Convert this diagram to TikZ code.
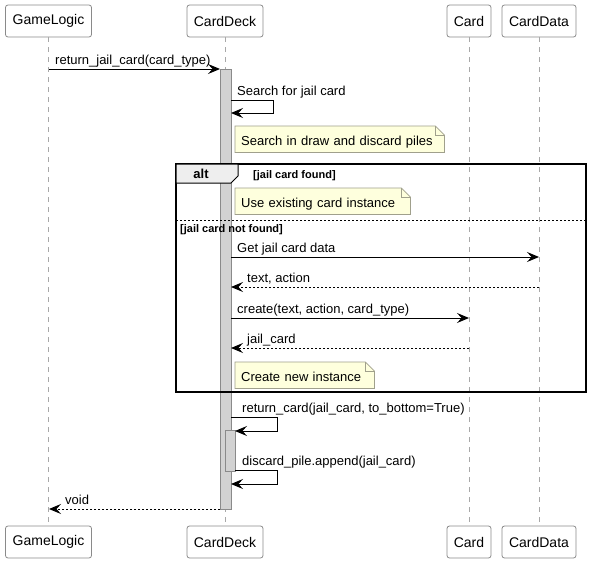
\documentclass[tikz,border=0pt]{standalone}
\usepackage{fontspec}
\setmainfont{Liberation Sans}
\usetikzlibrary{arrows.meta,backgrounds}
\definecolor{partborder}{HTML}{8A8A8A}
\definecolor{lifegray}{HTML}{A8A8A8}
\definecolor{actfill}{HTML}{D2D2D2}
\definecolor{actborder}{HTML}{8A8A8A}
\definecolor{notefill}{HTML}{FEFFDD}
\definecolor{noteborder}{HTML}{A0A08C}
\definecolor{tabfill}{HTML}{EEEEEE}
\newcommand\mynote[4]{%
  \node[notetext,text width=#3-12pt] (#1) at #2 {#4};
  \begin{scope}[on background layer]
  \draw[noteshape] (#1.north west) -- ([xshift=-9pt]#1.north east) -- ([yshift=-9pt]#1.north east) -- (#1.south east) -- (#1.south west) -- cycle;
  \draw[noteborder,line width=0.8pt] ([xshift=-9pt]#1.north east) -- ([xshift=-9pt,yshift=-9pt]#1.north east) -- ([yshift=-9pt]#1.north east);
  \end{scope}}
\begin{document}
\begin{tikzpicture}[x=1pt,y=-1pt,
  txt/.style={font=\fontsize{13}{15}\selectfont},
  part/.style={draw=partborder,fill=white,rounded corners=2.5pt,minimum height=32pt,inner sep=0pt,line width=0.8pt,font=\fontsize{14}{16}\selectfont},
  life/.style={draw=lifegray,dash pattern=on 5pt off 5pt,line width=0.8pt},
  msg/.style={-{Stealth[length=12pt,width=10pt,inset=4.5pt]},line width=1pt},
  ret/.style={msg,dash pattern=on 2pt off 2pt},
  lbl/.style={txt,anchor=base west,inner sep=0pt},
  act/.style={draw=actborder,fill=actfill,line width=0.8pt},
  notetext/.style={txt,anchor=north west,inner xsep=6pt,inner ysep=0pt,minimum height=26pt,text height=13pt,text depth=0pt,align=left},
  noteshape/.style={draw=noteborder,fill=notefill,line width=0.8pt},
  guard/.style={font=\bfseries\fontsize{11}{13}\selectfont,anchor=base west,inner sep=0pt}]
\useasboundingbox (0,0) rectangle (592,562);
% participants
\node[part,minimum width=86pt] (glT) at (48.5,21) {GameLogic};
\node[part,minimum width=76pt] (cdT) at (225,21) {CardDeck};
\node[part,minimum width=44pt] (cT) at (469,21) {Card};
\node[part,minimum width=74pt] (cdaT) at (539,21) {CardData};
\node[part,minimum width=86pt] (glB) at (48.5,542) {GameLogic};
\node[part,minimum width=76pt] (cdB) at (225,542) {CardDeck};
\node[part,minimum width=44pt] (cB) at (469,542) {Card};
\node[part,minimum width=74pt] (cdaB) at (539,542) {CardData};
% lifelines
\draw[life] (glT.south) -- (glB.north);
\draw[life] (cdT.south) -- (cdB.north);
\draw[life] (cT.south) -- (cB.north);
\draw[life] (cdaT.south) -- (cdaB.north);
% activations
\draw[act] (220,69) rectangle (231,509);
\draw[act] (225,430) rectangle (235,471);
% coordinates
\coordinate (gl1) at (49,69);  \coordinate (cd1) at (220,69);
\coordinate (s1a) at (231,100); \coordinate (s1b) at (273,100); \coordinate (s1c) at (273,113); \coordinate (s1d) at (231,113);
\coordinate (cd2) at (231,257); \coordinate (cda2) at (539,257);
\coordinate (cda3) at (539,287); \coordinate (cd3) at (231,287);
\coordinate (cd4) at (231,318); \coordinate (c4) at (469,318);
\coordinate (c5) at (469,348); \coordinate (cd5) at (231,348);
\coordinate (s2a) at (231,417); \coordinate (s2b) at (277,417); \coordinate (s2c) at (277,431); \coordinate (s2d) at (235,431);
\coordinate (s3a) at (235,470); \coordinate (s3b) at (277,470); \coordinate (s3c) at (277,484); \coordinate (s3d) at (231,484);
\coordinate (cd6) at (220,509); \coordinate (gl6) at (49,509);
% messages
\draw[msg] (gl1) -- (cd1);
\node[lbl] (l1) at (55,64) {return\_jail\_card(card\_type)};
\draw[msg] (s1a) -- (s1b) -- (s1c) -- (s1d);
\node[lbl] (l2) at (237,95) {Search for jail card};
\mynote{n1}{(235,126)}{209pt}{Search in draw and discard piles}
% alt frame
\draw[line width=1.5pt] (176,164) rectangle (586,392);
\draw[fill=tabfill,line width=1pt] (176,164) -- (238,164) -- (238,176) -- (231,183) -- (176,183) -- cycle;
\node[font=\bfseries\fontsize{13}{15}\selectfont,inner sep=0pt] (alt) at (201,174) {alt};
\node[guard] (g1) at (253,178) {[jail card found]};
\mynote{n2}{(235,188)}{175pt}{Use existing card instance}
\draw[line width=0.8pt,dash pattern=on 2pt off 2pt] (176,220) -- (586,220);
\node[guard] (g2) at (180,232) {[jail card not found]};
\draw[msg] (cd2) -- (cda2);
\node[lbl] (l3) at (237,252) {Get jail card data};
\draw[ret] (cda3) -- (cd3);
\node[lbl] (l4) at (247,282) {text, action};
\draw[msg] (cd4) -- (c4);
\node[lbl] (l5) at (237,313) {create(text, action, card\_type)};
\draw[ret] (c5) -- (cd5);
\node[lbl] (l6) at (247,343) {jail\_card};
\mynote{n3}{(235,362)}{139pt}{Create new instance}
% after frame
\draw[msg] (s2a) -- (s2b) -- (s2c) -- (s2d);
\node[lbl] (l7) at (242,412) {return\_card(jail\_card, to\_bottom=True)};
\draw[msg] (s3a) -- (s3b) -- (s3c) -- (s3d);
\node[lbl] (l8) at (242,465) {discard\_pile.append(jail\_card)};
\draw[ret] (cd6) -- (gl6);
\node[lbl] (l9) at (65,504) {void};
\end{tikzpicture}
\end{document}
